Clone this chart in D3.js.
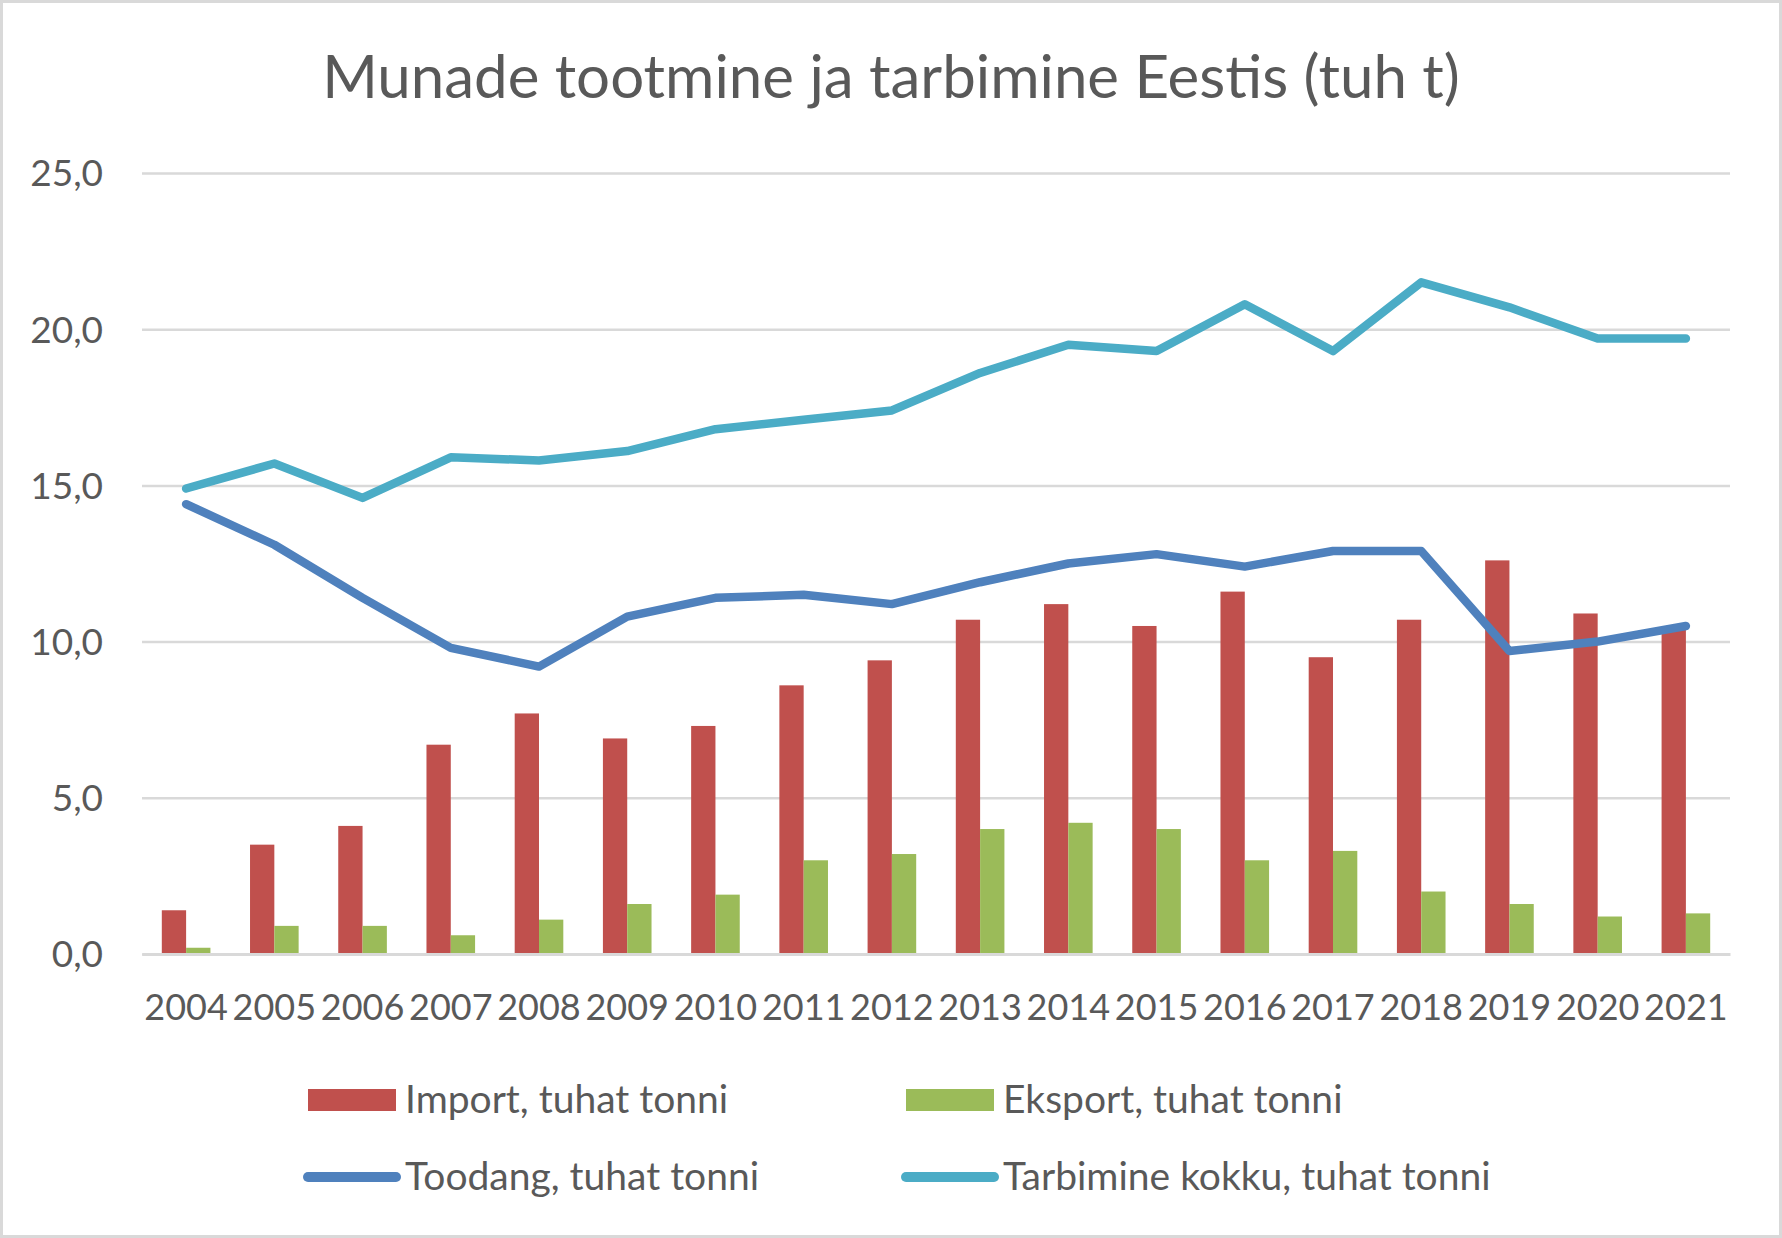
<!DOCTYPE html>
<html>
<head>
<meta charset="utf-8">
<script src="https://cdn.jsdelivr.net/npm/d3@7"></script>
<style>
  body { margin: 0; background: #fff; }
  svg text { font-family: Lato, "Open Sans", sans-serif; fill: #595959; }
</style>
</head>
<body>
<svg id="drawing_region"></svg>
<script>
// data (tuhat tonni)
const years = ['2004','2005','2006','2007','2008','2009','2010','2011','2012',
               '2013','2014','2015','2016','2017','2018','2019','2020','2021'];
const importValues = [1.4, 3.5, 4.1, 6.7, 7.7, 6.9, 7.3, 8.6, 9.4, 10.7, 11.2, 10.5, 11.6, 9.5, 10.7, 12.6, 10.9, 10.4];
const eksportValues = [0.2, 0.9, 0.9, 0.6, 1.1, 1.6, 1.9, 3.0, 3.2, 4.0, 4.2, 4.0, 3.0, 3.3, 2.0, 1.6, 1.2, 1.3];
const toodangValues = [14.4, 13.1, 11.4, 9.8, 9.2, 10.8, 11.4, 11.5, 11.2, 11.9, 12.5, 12.8, 12.4, 12.9, 12.9, 9.7, 10.0, 10.5];
const tarbimineValues = [14.9, 15.7, 14.6, 15.9, 15.8, 16.1, 16.8, 17.1, 17.4, 18.6, 19.5, 19.3, 20.8, 19.3, 21.5, 20.7, 19.7, 19.7];
const yTicks = [0, 5, 10, 15, 20, 25];

const title = 'Munade tootmine ja tarbimine Eestis (tuh t)';
const barSeries = [
    { name: 'Import, tuhat tonni', values: importValues, color: '#C0504D' },
    { name: 'Eksport, tuhat tonni', values: eksportValues, color: '#9BBB59' }
];
const lineSeries = [
    { name: 'Toodang, tuhat tonni', values: toodangValues, color: '#4F81BD' },
    { name: 'Tarbimine kokku, tuhat tonni', values: tarbimineValues, color: '#4BACC6' }
];

const config = {
    width: 1782,
    height: 1238,
    margin: { top: 173, right: 52, bottom: 284, left: 142 }
};

const svg = d3.select('#drawing_region')
    .attr('width', config.width)
    .attr('height', config.height);

// outer frame
svg.append('rect')
    .attr('x', 1.5).attr('y', 1.5)
    .attr('width', config.width - 3).attr('height', config.height - 3)
    .attr('fill', '#fff')
    .attr('stroke', '#D9D9D9')
    .attr('stroke-width', 3);

const inner_width = config.width - config.margin.left - config.margin.right;
const inner_height = config.height - config.margin.top - config.margin.bottom;

const chart = svg.append('g')
    .attr('transform', `translate(${config.margin.left}, ${config.margin.top})`);

const xscale = d3.scaleBand()
    .domain(years)
    .range([0, inner_width]);

const groupWidth = xscale.bandwidth() * 0.551;
const xsub = d3.scaleBand()
    .domain(barSeries.map(s => s.name))
    .range([0, groupWidth]);

const yscale = d3.scaleLinear()
    .domain([0, 25])
    .range([inner_height, 0]);

const locale = d3.formatLocale({ decimal: ',', thousands: ' ', grouping: [3], currency: ['', ' €'] });

// y axis with gridlines
const yaxis = d3.axisLeft(yscale)
    .tickValues(yTicks)
    .tickSizeInner(-inner_width)
    .tickSizeOuter(0)
    .tickPadding(39)
    .tickFormat(locale.format('.1f'));

const yaxis_group = chart.append('g').call(yaxis);
yaxis_group.select('.domain').remove();
yaxis_group.selectAll('.tick line')
    .attr('stroke', '#D9D9D9')
    .attr('stroke-width', 2.5);
yaxis_group.selectAll('.tick text')
    .attr('dy', '0.35em')
    .style('font-size', '37px');

// x axis
const xaxis = d3.axisBottom(xscale)
    .tickSize(0)
    .tickSizeOuter(0);

const xaxis_group = chart.append('g')
    .attr('transform', `translate(0, ${inner_height})`)
    .call(xaxis);
xaxis_group.select('.domain')
    .attr('stroke', '#D9D9D9')
    .attr('stroke-width', 3);
xaxis_group.selectAll('.tick text')
    .attr('y', 66)
    .attr('dy', 0)
    .style('font-size', '36px');

// bars
barSeries.forEach(s => {
    chart.append('g')
        .selectAll('rect')
        .data(years.map((y, i) => ({ year: y, value: s.values[i] })))
        .join('rect')
        .attr('x', d => xscale(d.year) + (xscale.bandwidth() - groupWidth) / 2 + xsub(s.name))
        .attr('y', d => yscale(d.value))
        .attr('width', xsub.bandwidth())
        .attr('height', d => yscale(0) - yscale(d.value))
        .attr('fill', s.color);
});

// keep the axis line over the bar feet
xaxis_group.raise();

// lines
const line = d3.line()
    .x(d => xscale(d.year) + xscale.bandwidth() / 2)
    .y(d => yscale(d.value));

lineSeries.forEach(s => {
    chart.append('path')
        .datum(years.map((y, i) => ({ year: y, value: s.values[i] })))
        .attr('d', line)
        .attr('fill', 'none')
        .attr('stroke', s.color)
        .attr('stroke-width', 8.5)
        .attr('stroke-linejoin', 'round')
        .attr('stroke-linecap', 'round');
});

// title
svg.append('text')
    .attr('x', config.width / 2)
    .attr('y', 98)
    .attr('text-anchor', 'middle')
    .style('font-size', '60px')
    .text(title);

// legend
const legendX = [308, 906];
const legendY = [1100, 1177];

barSeries.forEach((s, i) => {
    const g = svg.append('g')
        .attr('transform', `translate(${legendX[i]}, ${legendY[0]})`);
    g.append('rect')
        .attr('x', 0).attr('y', -11)
        .attr('width', 88).attr('height', 22)
        .attr('fill', s.color);
    g.append('text')
        .attr('x', 97).attr('y', 13)
        .style('font-size', '39px')
        .text(s.name);
});

lineSeries.forEach((s, i) => {
    const g = svg.append('g')
        .attr('transform', `translate(${legendX[i]}, ${legendY[1]})`);
    g.append('line')
        .attr('x1', 0).attr('x2', 88)
        .attr('y1', 0).attr('y2', 0)
        .attr('stroke', s.color)
        .attr('stroke-width', 10)
        .attr('stroke-linecap', 'round');
    g.append('text')
        .attr('x', 97).attr('y', 13)
        .style('font-size', '39px')
        .text(s.name);
});
</script>
</body>
</html>
